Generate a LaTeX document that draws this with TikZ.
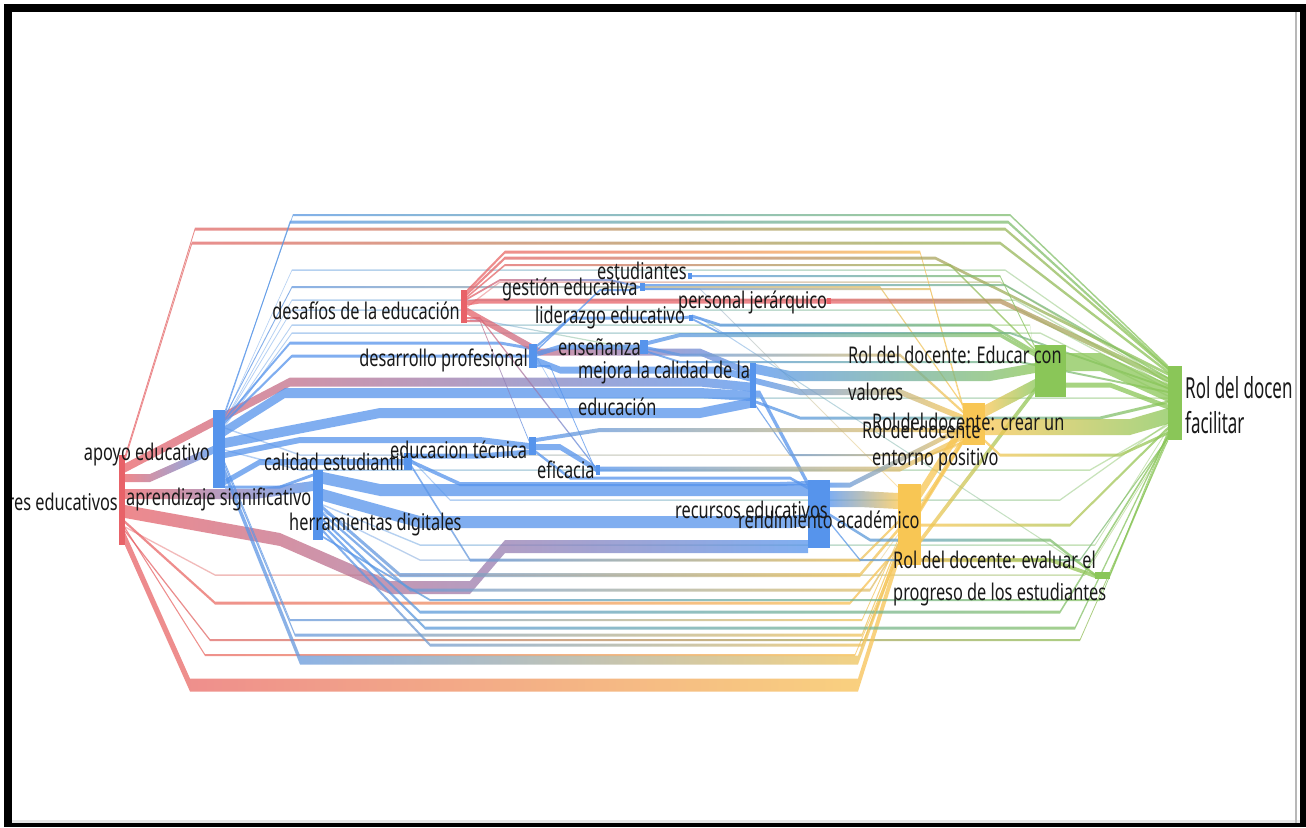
\documentclass[tikz,border=0pt]{standalone}
\usepackage{fontspec}
\setmainfont{Noto Sans}[FakeStretch=0.71]
\newfontfamily\rightfont{Noto Sans}[FakeStretch=0.585]
\definecolor{cR}{RGB}{232,98,104}
\definecolor{cB}{RGB}{86,148,236}
\definecolor{cY}{RGB}{248,198,84}
\definecolor{cG}{RGB}{138,198,88}
\newcommand{\lblf}{\fontsize{23}{36}\selectfont}
\newcommand{\band}[9]{%
  \shade[#1] (#2,{#3-(#9)/2}) -- (#4,{#5-(#9)/2}) -- (#6,{#5-(#9)/2}) -- (#7,{#8-(#9)/2}) -- (#7,{#8+(#9)/2}) -- (#6,{#5+(#9)/2}) -- (#4,{#5+(#9)/2}) -- (#2,{#3+(#9)/2}) -- cycle;}
\tikzset{
 lk/.style={fill opacity=0.75},
 tn/.style={fill opacity=0.45},
 rg/.style={lk,left color=cR,right color=cG},
 rb/.style={lk,left color=cR,right color=cB},
 ry/.style={lk,left color=cR,right color=cY},
 rr/.style={lk,left color=cR,right color=cR},
 bg/.style={lk,left color=cB,right color=cG},
 bb/.style={lk,left color=cB,right color=cB},
 by/.style={lk,left color=cB,right color=cY},
 yy/.style={lk,left color=cY,right color=cY},
 yg/.style={lk,left color=cY,right color=cG},
 gg/.style={lk,left color=cG,right color=cG},
 tbg/.style={tn,left color=cB,right color=cG},
 tby/.style={tn,left color=cB,right color=cY},
 trg/.style={tn,left color=cR,right color=cG},
 bar/.style={inner sep=0pt, outer sep=0pt, draw=none},
 lbl/.style={inner sep=0pt, text=black!90, font=\lblf},
 rlbl/.style={inner sep=0pt, text=black!90, font={\rightfont\fontsize{29}{36}\selectfont}},
}
\begin{document}
\begin{tikzpicture}[x=1pt,y=-1pt]
\useasboundingbox (0,0) rectangle (1306,827);
\fill[white] (0,0) rectangle (1306,827);

% ---- thin background links ----
\band{tbg}{225}{418}{292}{270}{1005}{1168}{384}{1.5}
\band{tbg}{225}{420}{292}{300}{1015}{1168}{386}{1.5}
\band{tbg}{225}{421}{292}{310}{1020}{1168}{389}{1.5}
\band{tbg}{225}{424}{292}{325}{1030}{1035}{358}{1.5}
\band{tbg}{225}{426}{292}{333}{1040}{1168}{396}{1.5}
\band{tby}{225}{428}{300}{455}{930}{963}{444}{1.5}
\band{tbg}{225}{450}{300}{470}{1090}{1168}{425}{1.5}
\band{tbg}{323}{505}{420}{545}{1095}{1168}{429}{1.5}
\band{tby}{323}{512}{420}{560}{880}{963}{443}{1.5}
\band{tbg}{412}{460}{450}{500}{1060}{1168}{423}{1.5}
\band{trg}{125}{527}{215}{575}{1085}{1168}{441}{1.5}
\band{trg}{467}{307}{500}{282}{1000}{1168}{382}{1.5}
\band{tbg}{537}{358}{560}{398}{1000}{1168}{398}{1.5}
\band{tby}{640}{289}{640}{289}{700}{898}{487}{1.2}
\band{tbg}{690}{318}{690}{318}{700}{1095}{574}{1.2}
\band{tbg}{470}{320}{470}{320}{480}{640}{350}{1.2}

% ---- from res educativos ----
\band{rg}{125}{456.5}{195}{229}{1005}{1168}{369}{3}
\band{rg}{125}{459.5}{192}{243}{1000}{1168}{372}{3}
\band{rb}{125}{468}{290}{382}{700}{750}{387}{9}
\band{rb}{125}{478}{125}{478}{150}{213}{450}{8}
\band{rb}{125}{494}{125}{494}{255}{313}{486}{10}
\shade[rb] (125,505) -- (280,533) -- (390,581) -- (470,581) -- (505,540) -- (808,540) -- (808,553) -- (505,553) -- (470,594) -- (390,594) -- (280,546) -- (125,518) -- cycle;
\band{ry}{125}{522}{215}{603}{850}{898}{548}{3}
\band{ry}{125}{528}{205}{655}{855}{898}{552}{2}
\band{rg}{125}{531}{210}{640}{1080}{1168}{440}{2}
\band{ry}{125}{539}{190}{685}{858}{898}{558}{13}

% ---- from apoyo educativo ----
\band{bg}{225}{411}{293}{215}{1010}{1168}{366}{2}
\band{bg}{225}{413.5}{290}{222}{1008}{1168}{368}{3}
\band{by}{225}{416}{292}{287}{880}{963}{405}{2}
\band{bb}{225}{419}{290}{343}{500}{529}{348}{3}
\band{bb}{225}{422}{292}{356}{500}{529}{356}{3}
\band{bb}{225}{431}{285}{393}{700}{750}{396}{10}
\band{bb}{225}{443}{380}{413}{700}{750}{403}{10}
\band{bb}{225}{455}{300}{440}{480}{529}{446}{6}
\band{by}{225}{463}{290}{620}{862}{898}{540}{2}
\band{by}{225}{466}{295}{635}{862}{898}{544}{3}
\band{by}{225}{473}{300}{660}{858}{898}{550}{9}
\band{bb}{225}{482}{260}{462}{360}{404}{462}{6}
\band{bb}{225}{487}{260}{487}{280}{313}{475}{3}

% ---- from aprendizaje significativo ----
\band{bb}{323}{478}{380}{490}{790}{808}{490}{12}
\band{bb}{323}{495}{420}{522}{790}{808}{520}{12}
\band{by}{323}{508}{400}{575}{860}{898}{530}{4}
\band{by}{323}{514}{410}{590}{870}{963}{441}{3}
\band{bg}{323}{520}{420}{612}{1060}{1168}{437}{3}
\band{bg}{323}{525}{425}{628}{1075}{1168}{434}{3}
\band{by}{323}{531}{430}{645}{862}{898}{555}{3}
\band{bg}{323}{537}{430}{600}{1100}{1168}{431}{2}

% ---- from calidad estudiantil ----
\band{bb}{412}{456}{412}{456}{480}{529}{452}{5}
\band{bb}{412}{462}{460}{484}{780}{808}{483}{4}
\band{by}{412}{467}{470}{560}{860}{898}{522}{3}

% ---- from desafios ----
\band{ry}{467}{291}{505}{252}{920}{963}{406}{3}
\band{rg}{467}{294}{505}{258}{935}{1168}{374}{3}
\band{rg}{467}{297}{505}{265}{950}{1035}{350}{2}
\band{rb}{467}{299}{500}{280}{610}{640}{287}{2}
\band{rr}{467}{303}{480}{301}{820}{828}{301}{5}
\band{rb}{467}{311}{540}{352}{700}{750}{373}{7}
\band{rb}{467}{318}{467}{318}{480}{596}{468}{2}
\band{rb}{467}{321}{467}{321}{480}{529}{441}{2}
\band{rg}{830}{301}{860}{301}{1000}{1168}{380}{5}

% ---- middle nodes ----
\band{bg}{645}{285}{700}{285}{1005}{1168}{378}{2}
\band{by}{645}{289}{700}{289}{930}{963}{409}{2}
\band{bg}{690}{276}{700}{276}{1000}{1035}{347}{2}
\band{bb}{537}{346}{570}{318}{680}{690}{317}{3}
\band{bb}{537}{350}{600}{290}{630}{640}{287}{2}
\band{bb}{537}{354}{560}{347}{620}{640}{347}{5}
\band{bb}{537}{361}{560}{370}{720}{750}{378}{7}
\band{bb}{537}{366}{537}{366}{550}{596}{471}{2}
\band{bg}{692}{316}{720}{325}{990}{1035}{352}{3}
\band{bg}{692}{319}{720}{333}{1010}{1168}{388}{2}
\band{bg}{648}{343}{680}{335}{1000}{1035}{355}{4}
\band{by}{648}{348}{680}{355}{900}{963}{412}{3}
\band{bg}{648}{352}{680}{362}{1020}{1168}{392}{2}
\band{bg}{756}{369}{790}{376}{990}{1035}{368}{10}
\band{by}{756}{381}{800}{392}{900}{963}{418}{6}
\band{bb}{756}{394}{756}{394}{760}{808}{484}{7}
\band{bg}{756}{402}{800}{418}{1100}{1168}{402}{3}
\band{by}{756}{406}{790}{455}{930}{963}{442}{2}
\band{by}{536}{440}{600}{430}{930}{963}{433}{4}
\band{bb}{536}{447}{536}{447}{560}{596}{469}{6}
\band{bb}{536}{452}{570}{478}{790}{808}{488}{3}
\band{by}{600}{469}{620}{469}{900}{963}{437}{5}

% ---- right side ----
\band{by}{830}{485}{830}{485}{850}{963}{428}{5}
\band{by}{830}{499}{830}{499}{860}{898}{501}{16}
\band{bg}{830}{515}{870}{540}{1050}{1095}{575}{3}
\band{bg}{830}{523}{860}{560}{1080}{1168}{438}{2}
\band{yy}{921}{492}{921}{492}{921}{963}{426}{12}
\band{yy}{921}{508}{921}{508}{921}{963}{440}{8}
\band{yg}{921}{525}{940}{525}{1070}{1168}{428}{3}
\band{yg}{921}{540}{921}{540}{921}{1035}{390}{6}
\band{yg}{921}{560}{921}{560}{1050}{1095}{576}{4}
\band{yg}{985}{411}{985}{411}{985}{1035}{385}{12}
\band{yg}{985}{427}{1000}{427}{1130}{1168}{416}{16}
\band{yg}{985}{441}{1000}{455}{1120}{1168}{433}{3}
\band{gg}{1066}{362}{1066}{362}{1100}{1168}{393}{18}
\band{gg}{1066}{385}{1066}{385}{1110}{1168}{407}{5}
\band{gg}{1110}{575}{1110}{575}{1110}{1168}{436}{4}

% ---- node bars ----
\node[bar, fill=cR, minimum width=6pt, minimum height=90pt] (n0) at (122,500) {};
\node[bar, fill=cB, minimum width=12pt, minimum height=78pt] (n1) at (219,449) {};
\node[bar, fill=cB, minimum width=10pt, minimum height=70pt] (n2) at (318,505) {};
\node[bar, fill=cB, minimum width=8pt, minimum height=17pt] (n3) at (408,461.5) {};
\node[bar, fill=cR, minimum width=6pt, minimum height=33pt] (n5) at (464,306.5) {};
\node[bar, fill=cB, minimum width=8pt, minimum height=24pt] (n6) at (533,356) {};
\node[bar, fill=cB, minimum width=7pt, minimum height=18pt] (n7) at (532.5,446) {};
\node[bar, fill=cB, minimum width=5pt, minimum height=8pt] (n8) at (642.5,287) {};
\node[bar, fill=cB, minimum width=8pt, minimum height=14pt] (n9) at (644,347) {};
\node[bar, fill=cB, minimum width=4pt, minimum height=6pt] (n19) at (690,276) {};
\node[bar, fill=cB, minimum width=4pt, minimum height=6pt] (n20) at (691,317.5) {};
\node[bar, fill=cB, minimum width=4pt, minimum height=10pt] (n21) at (598,469.5) {};
\node[bar, fill=cR, minimum width=4pt, minimum height=6pt] (n22) at (829,301) {};
\node[bar, fill=cB, minimum width=6pt, minimum height=45pt] (n10) at (753,385.5) {};
\node[bar, fill=cB, minimum width=22pt, minimum height=68pt] (n11) at (819,514) {};
\node[bar, fill=cY, minimum width=23pt, minimum height=81pt] (n12) at (909.5,524.5) {};
\node[bar, fill=cY, minimum width=22pt, minimum height=42pt] (n13) at (974,424) {};
\node[bar, fill=cG, minimum width=31pt, minimum height=52pt] (n14) at (1050.5,371) {};
\node[bar, fill=cG, minimum width=15pt, minimum height=7pt] (n15) at (1102.5,575.5) {};
\node[bar, fill=cG, minimum width=14pt, minimum height=74pt] (n16) at (1175,403) {};

% ---- labels ----
\node[lbl, anchor=base east] (l0) at (118,510) {res educativos};
\node[lbl, anchor=base east] (l1) at (210,460) {apoyo educativo};
\node[lbl, anchor=base west] (l2) at (126,505) {aprendizaje significativo};
\node[lbl, anchor=base west] (l3) at (264,470) {calidad estudiantil};
\node[lbl, anchor=base west] (l4) at (289,530) {herramientas digitales};
\node[lbl, anchor=base east] (l5) at (460,319) {desafíos de la educación};
\node[lbl, anchor=base east] (l6) at (528,366) {desarrollo profesional};
\node[lbl, anchor=base west] (l7) at (390,458) {educacion técnica};
\node[lbl, anchor=base west] (l8) at (537,478) {eficacia};
\node[lbl, anchor=base west] (l9) at (597,279) {estudiantes};
\node[lbl, anchor=base west] (l10) at (502,295) {gestión educativa};
\node[lbl, anchor=base west] (l11) at (535,323) {liderazgo educativo};
\node[lbl, anchor=base west] (l12) at (678,308) {personal jerárquico};
\node[lbl, anchor=base west] (l13) at (558,355) {enseñanza};
\node[lbl, anchor=base west] (l14) at (578,378) {mejora la calidad de la};
\node[lbl, anchor=base west] (l14b) at (578,415) {educación};
\node[lbl, anchor=base west] (l15) at (675,518) {recursos educativos};
\node[lbl, anchor=base west] (l16) at (738,528) {rendimiento académico};
\node[lbl, anchor=base west] (l17) at (848,363) {Rol del docente: Educar con};
\node[lbl, anchor=base west] (l17b) at (848,400) {valores};
\node[lbl, anchor=base west] (l18) at (872,430) {Rol del docente: crear un};
\node[lbl, anchor=base west] (l18c) at (862,438) {Rol del docente};
\node[lbl, anchor=base west] (l18b) at (872,465) {entorno positivo};
\node[lbl, anchor=base west] (l19) at (893,568) {Rol del docente: evaluar el};
\node[lbl, anchor=base west] (l19b) at (893,600) {progreso de los estudiantes};
\node[rlbl, anchor=base west] (l20) at (1185,398) {Rol del docen};
\node[rlbl, anchor=base west] (l20b) at (1185,433) {facilitar};

% ---- frame ----
\fill[black!10] (12,820) rectangle (1300,823);
\fill[black!28] (1295,12) rectangle (1297,823);
\fill[black] (4,4) rectangle (1306,12);
\fill[black] (4,4) rectangle (12,827);
\fill[black] (1300,4) rectangle (1306,827);
\fill[black] (4,823) rectangle (1306,827);
\end{tikzpicture}
\end{document}
